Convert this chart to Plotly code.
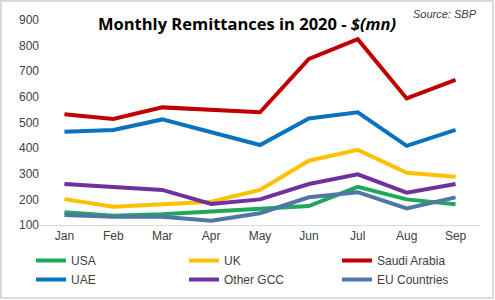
import plotly.graph_objects as go

months = ["Jan", "Feb", "Mar", "Apr", "May", "Jun", "Jul", "Aug", "Sep"]
usa = [150, 136, 142, 152, 165, 174, 249, 200, 181]
uk = [201, 171, 181, 191, 237, 351, 393, 304, 288]
saudi = [532, 514, 559, 550, 540, 748, 825, 594, 666]
uae = [464, 471, 512, 462, 412, 516, 540, 409, 471]
other_gcc = [260, 247, 237, 182, 200, 260, 298, 226, 260]
eu = [139, 132, 132, 117, 146, 208, 228, 165, 208]

series = [
    ("USA", usa, "#1FA85A"),
    ("UK", uk, "#FFC000"),
    ("Saudi Arabia", saudi, "#C00000"),
    ("UAE", uae, "#0B72C0"),
    ("Other GCC", other_gcc, "#7030A0"),
    ("EU Countries", eu, "#4D77A6"),
]

fig = go.Figure()
for name, vals, col in series:
    fig.add_trace(go.Scatter(x=months, y=vals, name=name, mode="lines",
                             line=dict(color=col, width=4)))

W, H = 495, 300
L, R, T, B = 40, 15, 20, 75
pw, ph = W - L - R, H - T - B

def px_x(p):
    return (p - L) / pw

def px_y(p):
    return (H - B - p) / ph

fig.update_layout(
    width=W, height=H,
    margin=dict(l=L, r=R, t=T, b=B, autoexpand=False),
    paper_bgcolor="white", plot_bgcolor="white",
    font=dict(family="Liberation Sans, Arial, sans-serif", size=12, color="#404040"),
    showlegend=True,
    legend=dict(orientation="h", x=px_x(31), y=px_y(246), xanchor="left", yanchor="top",
                entrywidth=108, entrywidthmode="pixels", tracegroupgap=0,
                font=dict(size=12, color="#404040"), bgcolor="rgba(0,0,0,0)"),
    xaxis=dict(showgrid=False, showline=True, linecolor="#D9D9D9", linewidth=1,
               ticks="", zeroline=False, range=[-0.5, 8.5], fixedrange=True,
               tickfont=dict(size=12)),
    yaxis=dict(range=[100, 900], tickvals=[100, 200, 300, 400, 500, 600, 700, 800, 900],
               showgrid=False, showline=False, zeroline=False, ticks="",
               tickfont=dict(size=12)),
)

fig.add_annotation(text="<b>Monthly Remittances in 2020 - <i>$(mn)</i></b>",
                   xref="paper", yref="paper", x=px_x(247), y=px_y(23),
                   xanchor="center", yanchor="middle", showarrow=False,
                   font=dict(family="Open Sans, Liberation Sans, sans-serif", size=16.5, color="#000000"))
fig.add_annotation(text="<i>Source: SBP</i>",
                   xref="paper", yref="paper", x=px_x(445), y=px_y(14),
                   xanchor="center", yanchor="middle", showarrow=False,
                   font=dict(family="Liberation Sans, Arial, sans-serif", size=11, color="#404040"))
fig.add_shape(type="rect", xref="paper", yref="paper",
              x0=px_x(1), x1=px_x(493), y0=px_y(298), y1=px_y(1),
              line=dict(color="#D9D9D9", width=2))

fig.write_html("out.html")
